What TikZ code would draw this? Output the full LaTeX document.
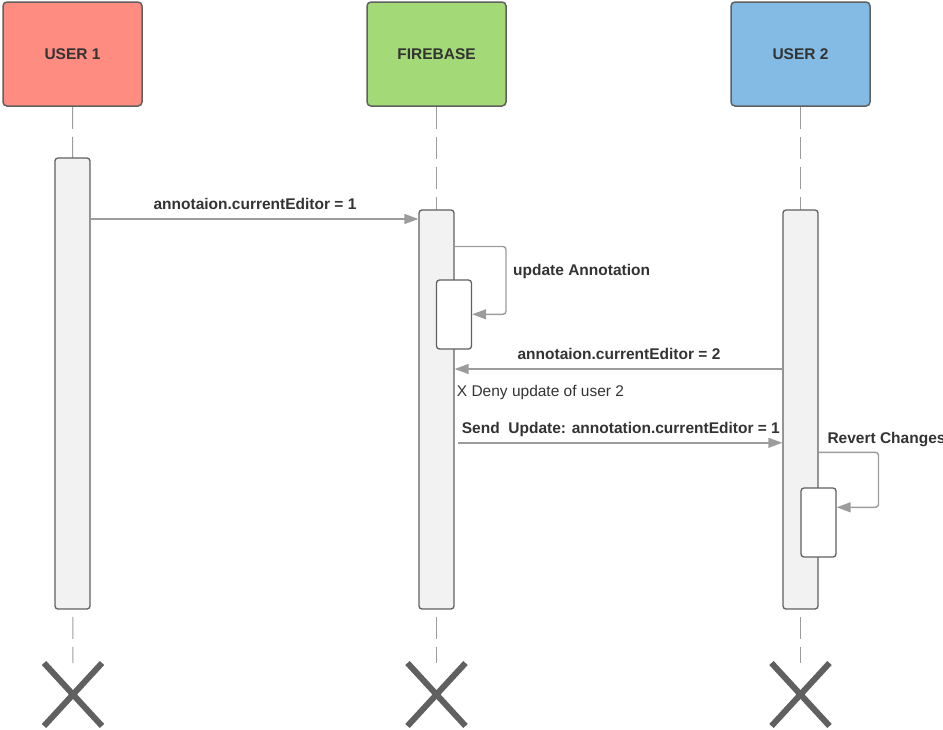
\documentclass[tikz,border=0pt]{standalone}
\usepackage{fontspec}
\setmainfont{Liberation Sans}
\usetikzlibrary{arrows.meta,shapes.misc,backgrounds}

\definecolor{userone}{HTML}{FF8C80}
\definecolor{firebase}{HTML}{A3D977}
\definecolor{usertwo}{HTML}{83BBE5}
\definecolor{edge}{HTML}{606060}
\definecolor{msg}{HTML}{9C9C9C}
\definecolor{txt}{HTML}{333333}

\begin{document}
\begin{tikzpicture}[%
  x=1pt, y=-1pt,
  font=\fontsize{15.5}{18}\selectfont\bfseries, text=txt,
  actor/.style={draw=edge, line width=1.5pt, rounded corners=4pt,
    minimum width=139pt, minimum height=104pt, inner sep=0pt},
  bar/.style={draw=edge, fill=black!5, line width=1.3pt, rounded corners=3pt,
    minimum width=35pt, inner sep=0pt},
  subbar/.style={bar, fill=white, minimum height=69pt},
  life/.style={draw=msg, line width=1pt, dash pattern=on 22pt off 8pt},
  msgline/.style={draw=msg, line width=1.4pt, rounded corners=3pt,
    -{Triangle[length=14pt,width=10pt]}},
  note/.style={inner sep=0pt},
  kill/.style={cross out, draw=edge, line width=6pt, minimum width=58pt,
    minimum height=63pt, inner sep=0pt, outer sep=0pt}]

  \useasboundingbox (0,0) rectangle (943,729);

  % participants
  \node[actor, fill=userone] (usera) at (72.5,54) {USER 1};
  \node[actor, fill=firebase] (fire) at (436.5,54) {FIREBASE};
  \node[actor, fill=usertwo] (userb) at (800.5,54) {USER 2};

  % activations
  \node[bar, minimum height=451pt] (usera-bar) at (72.5,383.5) {};
  \node[bar, minimum height=399pt] (fire-bar) at (436.5,409.5) {};
  \node[bar, minimum height=399pt] (userb-bar) at (800.5,409.5) {};
  \node[subbar] (fire-self) at (454,314.5) {};
  \node[subbar] (userb-self) at (818.5,522.5) {};

  % destruction
  \node[kill] (usera-x) at (73,694.5) {};
  \node[kill] (fire-x) at (436.5,694.5) {};
  \node[kill] (userb-x) at (800.5,694.5) {};

  \begin{scope}[on background layer]
    \foreach \a in {usera,fire,userb}
      \draw[life] (\a.south) -- (\a-x.north);
  \end{scope}

  % messages
  \draw[msgline] (usera-bar.east |- 0,219) -- (fire-bar.west |- 0,219);
  \node[note, anchor=base] (m-one) at (255,209.5) {annotaion.currentEditor = 1};

  \draw[msgline] (fire-bar.east |- 0,246.5) -- (506,246.5) -- (506,314.3)
    -- (fire-self.east |- 0,314.3);
  \node[note, anchor=base west] (m-update) at (513,275) {update Annotation};

  \draw[msgline] (userb-bar.west |- 0,369) -- (fire-bar.east |- 0,369);
  \node[note, anchor=base] (m-two) at (619,359.3) {annotaion.currentEditor = 2};
  \node[note, anchor=base west, font=\fontsize{15.5}{18}\selectfont] (m-deny)
    at (456.7,396.7) {X Deny update of user 2};

  \coordinate (send) at (458,442.8);
  \draw[msgline] (send) -- (userb-bar.west |- send);
  \node[note, anchor=base west] (m-send) at (461.7,433.3)
    {Send\ \ Update: annotation.currentEditor = 1};

  \draw[msgline] (userb-bar.east |- 0,452.3) -- (878.5,452.3) -- (878.5,507.3)
    -- (userb-self.east |- 0,507.3);
  \node[note, anchor=base west] (m-revert) at (827.3,443.3) {Revert Changes};
\end{tikzpicture}
\end{document}
